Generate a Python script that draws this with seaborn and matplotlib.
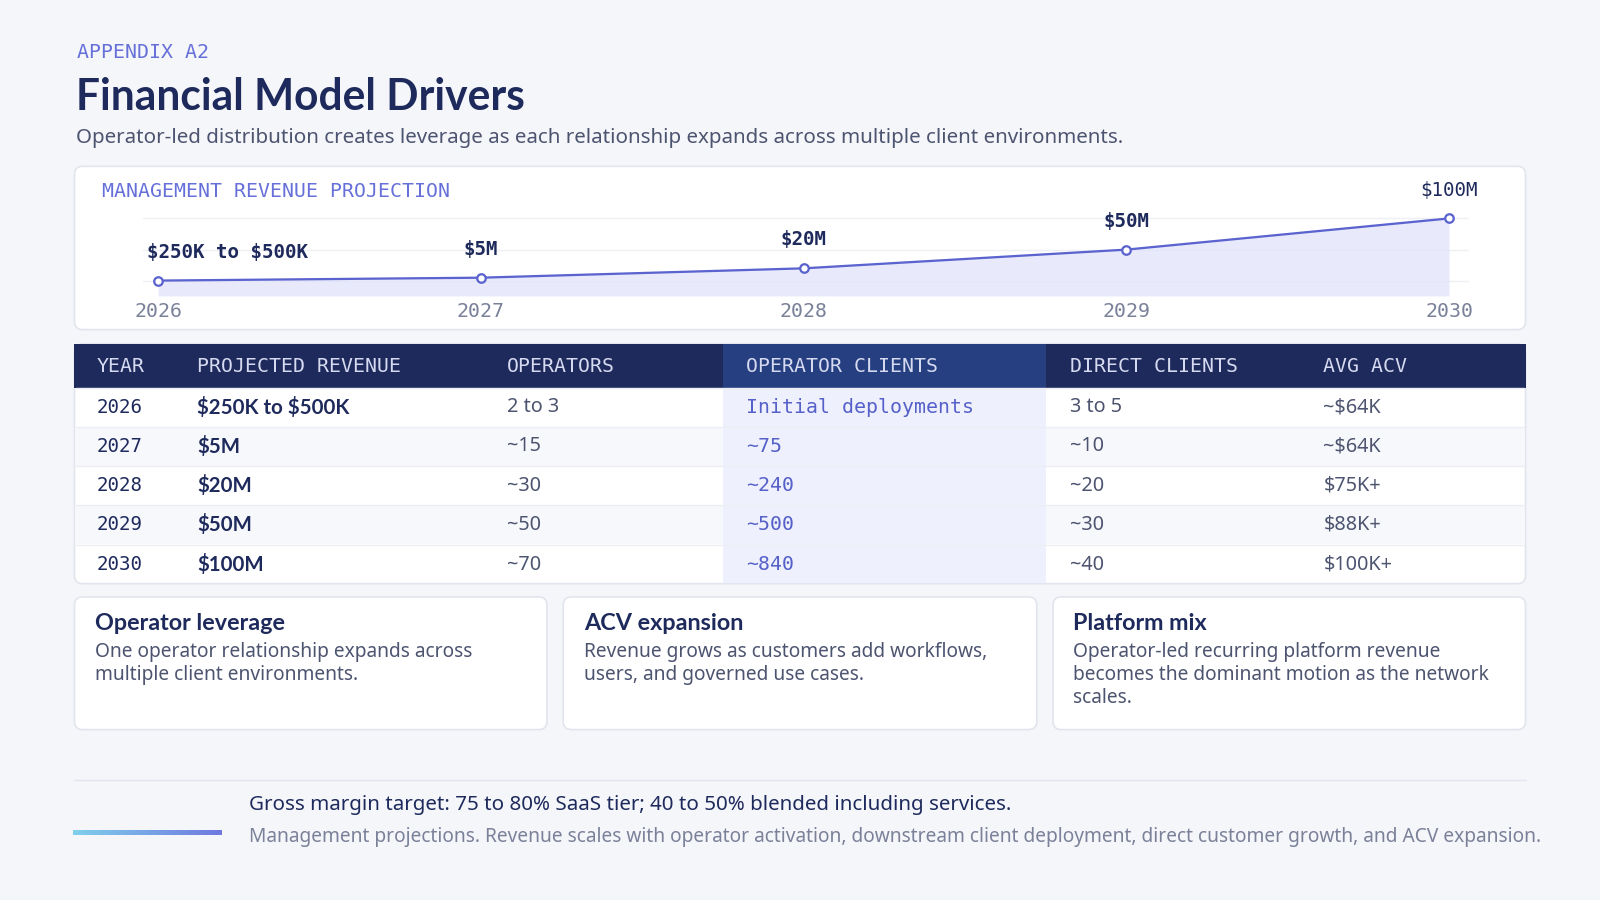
import matplotlib
matplotlib.use("Agg")
import matplotlib.pyplot as plt
import seaborn as sns
import pandas as pd
from matplotlib.patches import FancyBboxPatch, Rectangle
import numpy as np

# data
years = ["2026", "2027", "2028", "2029", "2030"]
revenue_m = [0.375, 5, 20, 50, 100]
revenue_labels = ["$250K to $500K", "$5M", "$20M", "$50M", "$100M"]
operators = ["2 to 3", "~15", "~30", "~50", "~70"]
operator_clients = ["Initial deployments", "~75", "~240", "~500", "~840"]
direct_clients = ["3 to 5", "~10", "~20", "~30", "~40"]
avg_acv = ["~$64K", "~$64K", "$75K+", "$88K+", "$100K+"]
headers = ["YEAR", "PROJECTED REVENUE", "OPERATORS", "OPERATOR CLIENTS", "DIRECT CLIENTS", "AVG ACV"]
cards = [("Operator leverage", "One operator relationship expands across\nmultiple client environments."),
         ("ACV expansion", "Revenue grows as customers add workflows,\nusers, and governed use cases."),
         ("Platform mix", "Operator-led recurring platform revenue\nbecomes the dominant motion as the network\nscales.")]

sns.set_style("white")
SANS = ["Noto Sans", "DejaVu Sans"]
MONO = ["DejaVu Sans Mono"]
TITLE = ["Lato", "DejaVu Sans"]
plt.rcParams['font.family'] = SANS
plt.rcParams['text.parse_math'] = False

NAVY = "#1e2a5c"
ACCENT = "#6670d8"
GRAY = "#4d5470"
LIGHTGRAY = "#7a8199"

W, H = 1568, 882
fig = plt.figure(figsize=(15.68, 8.82), dpi=1600 / 15.68)
fig.patch.set_facecolor("#f5f6fa")
bg = fig.add_axes([0, 0, 1, 1])
bg.set_xlim(0, W)
bg.set_ylim(H, 0)
bg.axis("off")

def card(x0, y0, x1, y1, fc="white", ec="#e2e5ee"):
    bg.add_patch(FancyBboxPatch((x0, y0), x1 - x0, y1 - y0, boxstyle="round,pad=0,rounding_size=8",
                                fc=fc, ec=ec, lw=1.2))

# header texts
bg.text(75, 51, "APPENDIX A2", family=MONO, fontsize=14, color=ACCENT, va="center")
bg.text(74, 95, "Financial Model Drivers", family=TITLE, fontsize=30, fontweight="bold", color=NAVY, va="center")
bg.text(74, 135, "Operator-led distribution creates leverage as each relationship expands across multiple client environments.",
        fontsize=14.5, color=GRAY, va="center")

# chart card
card(73, 163, 1495, 323)
bg.text(100, 188, "MANAGEMENT REVENUE PROJECTION", family=MONO, fontsize=14, color=ACCENT, va="center")

ax = fig.add_axes([140 / W, 1 - 290 / H, 1300 / W, 90 / H])
df = pd.DataFrame({"idx": np.arange(len(years)), "rev": revenue_m})
ax.fill_between(df["idx"], df["rev"], -24.2, color="#dfe2fb", alpha=0.7, lw=0)
sns.lineplot(data=df, x="idx", y="rev", ax=ax, color="#5b63cf", lw=1.6, marker="o",
             markersize=6, markerfacecolor="white", markeredgecolor="#5b63cf", markeredgewidth=1.6)
ax.set_xlim(-0.047, 4.063)
ax.set_ylim(-24.2, 123)
ax.set_yticks([0, 50, 100])
ax.grid(axis="y", color="#eef0f5", lw=1)
ax.set_yticklabels([])
ax.set_xticks(df["idx"])
ax.set_xticklabels(years, family=MONO, fontsize=14, color=LIGHTGRAY)
ax.tick_params(length=0, pad=4)
ax.set_xlabel("")
ax.set_ylabel("")
ax.patch.set_alpha(0)
for s in ax.spines.values():
    s.set_visible(False)
for i, (v, lab) in enumerate(zip(revenue_m, revenue_labels)):
    last = i == len(years) - 1
    ax.annotate(lab, (i, v), xytext=(-8 if i == 0 else 0, 20), textcoords="offset points",
                ha="left" if i == 0 else "center", va="center", family=MONO, fontsize=13.5,
                fontweight="normal" if last else "bold", color=NAVY)

# table
tx0, tx1 = 73, 1495
card(tx0, 337, tx1, 572)
row_top = [380, 418, 457, 495, 534]
row_h = 38.5
for r, yt in enumerate(row_top):
    if r % 2 == 1:
        bg.add_patch(Rectangle((tx0 + 1, yt), tx1 - tx0 - 2, row_h, fc="#f7f8fc", lw=0))
    bg.plot([tx0 + 1, tx1 - 1], [yt, yt], color="#eceef4", lw=1)
bg.add_patch(Rectangle((709, 380), 316, 191, fc="#eef0fd", lw=0))
bg.add_patch(Rectangle((tx0, 337), tx1 - tx0, 43, fc="#1e2a5c", lw=0))
bg.add_patch(Rectangle((709, 337), 316, 43, fc="#263f80", lw=0))
col_x = [95, 193, 497, 731, 1049, 1297]
for cx, h in zip(col_x, headers):
    bg.text(cx, 359, h, family=MONO, fontsize=14, color="#d6daf0", va="center")
for r, yt in enumerate(row_top):
    yc = yt + row_h / 2
    bg.text(col_x[0], yc, years[r], family=MONO, fontsize=13.5, color=NAVY, va="center")
    bg.text(col_x[1], yc, revenue_labels[r], family=TITLE, fontsize=14.5, fontweight="bold", color=NAVY, va="center")
    bg.text(col_x[2], yc, operators[r], fontsize=14, color=GRAY, va="center")
    bg.text(col_x[3], yc, operator_clients[r], family=MONO, fontsize=14, color="#5560c8", va="center")
    bg.text(col_x[4], yc, direct_clients[r], fontsize=14, color=GRAY, va="center")
    bg.text(col_x[5], yc, avg_acv[r], fontsize=14, color=GRAY, va="center")

# cards
for (x0, x1), (t, body) in zip([(73, 536), (552, 1016), (1032, 1495)], cards):
    card(x0, 585, x1, 715)
    bg.text(x0 + 20, 611, t, family=TITLE, fontsize=16.5, fontweight="bold", color=NAVY, va="center")
    bg.text(x0 + 20, 629, body, fontsize=13.5, color=GRAY, va="top", linespacing=1.2)

# footer
bg.plot([73, 1495], [764, 764], color="#e3e6ee", lw=1)
grad = np.linspace(0, 1, 256).reshape(1, -1)
cmap = matplotlib.colors.LinearSegmentedColormap.from_list("g", ["#7fd0ec", "#6f78e0"])
bg.imshow(grad, cmap=cmap, extent=(72, 218, 818, 814), aspect="auto", zorder=2)
bg.set_xlim(0, W)
bg.set_ylim(H, 0)
bg.text(244, 789, "Gross margin target: 75 to 80% SaaS tier; 40 to 50% blended including services.",
        fontsize=14.5, color=NAVY, va="center")
bg.text(244, 820, "Management projections. Revenue scales with operator activation, downstream client deployment, direct customer growth, and ACV expansion.",
        fontsize=13.5, color=LIGHTGRAY, va="center")

fig.savefig("out.png", dpi=1600 / 15.68, facecolor=fig.get_facecolor())
